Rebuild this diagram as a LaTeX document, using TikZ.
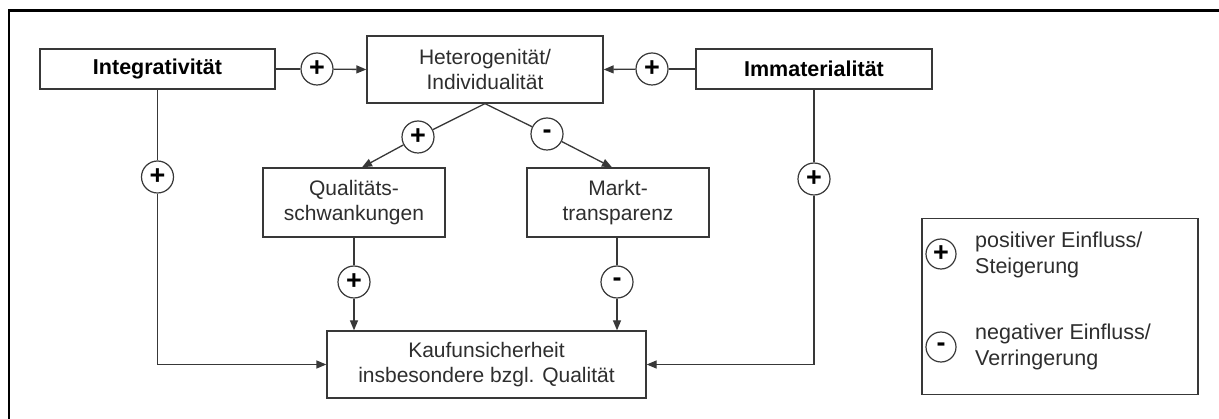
\documentclass[tikz,border=0pt]{standalone}
\usepackage{fontspec}
\setmainfont{Liberation Sans}
\usetikzlibrary{arrows.meta,calc}
\definecolor{linec}{gray}{0.22}
\definecolor{textc}{gray}{0.18}
\begin{document}
\begin{tikzpicture}[x=1pt,y=-1pt,
  box/.style={draw=linec,line width=1.3pt,inner sep=0pt,minimum width=#1,text=textc,align=center,
    font=\fontsize{21}{25.5}\selectfont},
  bbox/.style={box=#1,minimum height=40pt,font=\fontsize{21.5}{25}\selectfont\bfseries,text=black},
  sign/.style={draw=linec,line width=1.2pt,circle,minimum size=32pt,inner sep=0pt,fill=white,
    font=\fontsize{27}{27}\selectfont\bfseries},
  conn/.style={draw=linec,line width=1.3pt},
  arr/.style={conn,-{Triangle[length=10pt,width=8pt]}},
  legtext/.style={anchor=west,align=left,inner sep=0pt,text=textc,font=\fontsize{21.5}{26}\selectfont}
]
\useasboundingbox (0,0) rectangle (1219,419);
\fill[white] (0,0) rectangle (1219,419);
% outer frame
\draw[line width=2.2pt,black] (9,420) -- (9,10.5) -- (1220,10.5);

% boxes
\node[bbox=235pt] (integ) at (157.5,69) {Integrativität};
\node[box=236pt,minimum height=67pt] (het) at (485,69.5) {Heterogenität/\\Individualität};
\node[bbox=236pt] (imm) at (814,69) {Immaterialität};
\node[box=182pt,minimum height=69pt] (qual) at (354,202.5) {Qualitäts-\\schwankungen};
\node[box=182pt,minimum height=69pt] (markt) at (618,202.5) {Markt-\\transparenz};
\node[box=319pt,minimum height=67pt] (kauf) at (486.5,364.5) {Kaufunsicherheit\\insbesondere bzgl. Qualität};

% signs
\node[sign] (c1) at (317,69) {+};
\node[sign] (c2) at (652,69) {+};
\node[sign] (c3) at (418,137) {+};
\node[sign] (c4) at (547,134) {-};
\node[sign] (c5) at (157.5,177) {+};
\node[sign] (c6) at (814,179) {+};
\node[sign] (c7) at (354,282) {+};
\node[sign] (c8) at (617,282) {-};

% connectors
\draw[conn] (integ.east) -- (c1);
\draw[arr] (c1) -- (het.west);
\draw[conn] (imm.west) -- (c2);
\draw[arr] (c2) -- (het.east);
\draw[conn] (het.south) -- (c3);
\draw[arr] (c3) -- ($(qual.north)+(8,0)$);
\draw[conn] (het.south) -- (c4);
\draw[arr] (c4) -- ($(markt.north)+(-6,0)$);
\draw[conn] (integ.south) -- (c5);
\draw[arr] (c5) -- (c5 |- kauf.west) -- (kauf.west);
\draw[conn] (imm.south) -- (c6);
\draw[arr] (c6) -- (c6 |- kauf.east) -- (kauf.east);
\draw[conn] (qual.south) -- (c7);
\draw[arr] (c7) -- (c7 |- kauf.north);
\draw[conn] (markt.south -| c8) -- (c8);
\draw[arr] (c8) -- (c8 |- kauf.north);

% legend
\node[draw=linec,line width=1.3pt,minimum width=276pt,minimum height=176pt,inner sep=0pt] (leg) at (1060,306.5) {};
\node[sign,minimum size=30pt] (l1) at (941,254) {+};
\node[sign,minimum size=30pt] (l2) at (941,347) {-};
\node[legtext] (t1) at (975,255) {positiver Einfluss/\\Steigerung};
\node[legtext] (t2) at (975,347) {negativer Einfluss/\\Verringerung};
\end{tikzpicture}
\end{document}
